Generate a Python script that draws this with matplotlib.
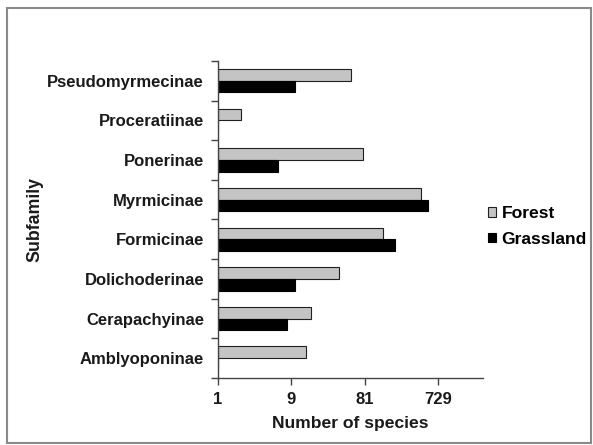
import matplotlib.pyplot as plt
import numpy as np
from matplotlib.patches import Rectangle

plt.rcParams['font.family'] = ['Liberation Sans', 'DejaVu Sans']

# species counts per subfamily, listed bottom to top
subfamilies = ['Amblyoponinae', 'Cerapachyinae', 'Dolichoderinae', 'Formicinae',
               'Myrmicinae', 'Ponerinae', 'Proceratiinae', 'Pseudomyrmecinae']
forest = [14, 16, 38, 140, 435, 76, 2, 53]
grassland = [1, 8, 10, 200, 540, 6, 1, 10]
xticks = [1, 9, 81, 729]
xtick_labels = ['1', '9', '81', '729']

fig = plt.figure(figsize=(5.93, 4.45), dpi=100)
ax = fig.add_axes([0.3676, 0.1506, 0.4469, 0.7124])

# gray frame around the whole chart area
fig.patches.append(Rectangle((7 / 593, 2 / 445), 584 / 593, 435 / 445,
                             transform=fig.transFigure, fill=False,
                             edgecolor='#8a8a8a', linewidth=1.5))

y = np.arange(len(subfamilies))
h = 0.295
ax.barh(y + h / 2, np.array(forest) - 1, left=1, height=h, color='#c4c4c4',
        edgecolor='#202020', linewidth=0.8, label='Forest')
ax.barh(y - h / 2, np.array(grassland) - 1, left=1, height=h, color='black',
        edgecolor='black', linewidth=0.8, label='Grassland')

ax.set_xscale('log', base=9)
ax.set_xlim(1, 2795)
ax.set_ylim(-0.5, len(subfamilies) - 0.5)

ax.set_xticks(xticks)
ax.set_xticklabels(xtick_labels)
ax.xaxis.set_minor_locator(plt.NullLocator())

# category labels sit between the tick marks, as in a spreadsheet chart
ax.set_yticks(y)
ax.set_yticklabels(subfamilies)
ax.set_yticks(np.arange(-0.5, len(subfamilies)), minor=True)
ax.tick_params(axis='y', which='major', length=0, pad=10)
ax.tick_params(axis='y', which='minor', length=5, width=1, color='#444444', direction='out')
ax.tick_params(axis='x', which='major', length=5, width=1, color='#444444', direction='out', pad=5)

for lab in ax.get_yticklabels() + ax.get_xticklabels():
    lab.set_fontweight('bold')
    lab.set_fontsize(12)
    lab.set_color('#1a1a1a')

for s in ['top', 'right']:
    ax.spines[s].set_visible(False)
for s in ['left', 'bottom']:
    ax.spines[s].set_color('#444444')
    ax.spines[s].set_linewidth(1)

ax.set_xlabel('Number of species', fontsize=12.6, fontweight='bold', color='#1a1a1a')
ax.set_ylabel('Subfamily', fontsize=12.8, fontweight='bold', color='#1a1a1a')
ax.yaxis.set_label_coords(-0.66, 0.5)
ax.xaxis.set_label_coords(0.5, -0.12)

ax.legend(loc='center left', bbox_to_anchor=(481 / 593, 1 - 226.5 / 445),
          bbox_transform=fig.transFigure, frameon=False,
          prop={'weight': 'bold', 'size': 12.6}, handlelength=0.45, handleheight=0.45,
          handletextpad=0.33, labelspacing=0.6, borderaxespad=0)

fig.savefig('out.png', dpi=100)
